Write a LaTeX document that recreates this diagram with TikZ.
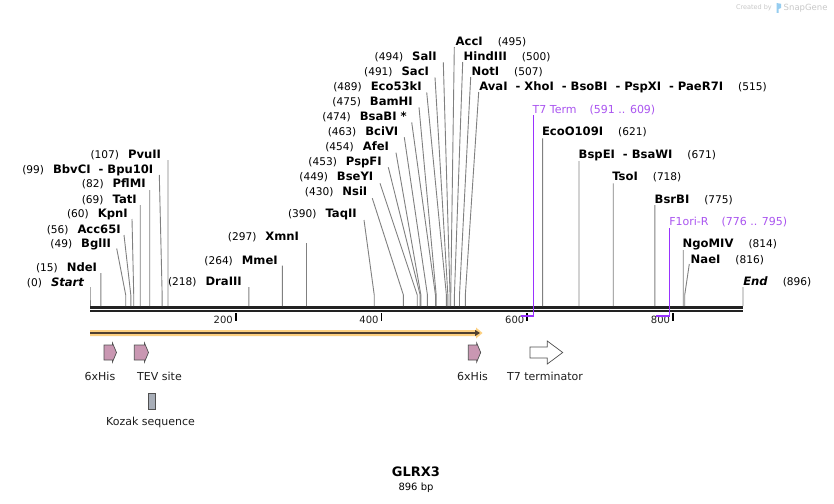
\documentclass[tikz,border=0pt]{standalone}
\usepackage{fontspec}
\setmainfont{DejaVu Sans}
\usetikzlibrary{arrows.meta}
\definecolor{siteg}{RGB}{128,128,128}
\definecolor{bb}{RGB}{34,34,34}
\definecolor{primc}{RGB}{153,51,255}
\definecolor{primt}{RGB}{170,85,240}
\definecolor{orfill}{RGB}{253,208,128}
\definecolor{ordark}{RGB}{80,64,48}
\definecolor{pinkf}{RGB}{201,151,178}
\definecolor{featst}{RGB}{80,80,80}
\definecolor{kozf}{RGB}{168,174,184}
\definecolor{cgray}{RGB}{200,200,200}
\definecolor{sgblue}{RGB}{150,205,240}
\definecolor{txt}{RGB}{30,30,30}
\newcommand\enzn[1]{{\fontsize{11.6}{13}\selectfont\bfseries #1}}
\newcommand\enzp[1]{{\fontsize{10.6}{12}\selectfont #1}}
\newcommand\dsh{\hspace{8pt}-\hspace{4pt}}
\newcommand\sitecon[4]{%
  \coordinate (#1s) at ({90+#2*0.7288},306);
  \coordinate (#1b) at ({90+#2*0.7288},295);
  \coordinate (#1t) at (#3,#4);
  \draw[siteline] (#1t) -- (#1b) -- (#1s);}
\newcommand\labL[5]{\node[lbl,anchor=base east] (#1) at (#2,{#3+4}) {\enzp{(#4)}\hspace{9pt}\enzn{#5}};}
\newcommand\labR[5]{\node[lbl,anchor=base west] (#1) at (#2,{#3+4}) {\enzn{#5}\hspace{15pt}\enzp{(#4)}};}
\newcommand\pinkarrow[3]{%
  \draw[pinkfeat] (#2,345) -- ({#3-4},345) -- ({#3-4},343) -- (#3,352.5) -- ({#3-4},362) -- ({#3-4},360) -- (#2,360) -- cycle;
  \coordinate (#1) at ({(#2+#3)/2},352.5);}
\begin{document}
\begin{tikzpicture}[x=1pt,y=-1pt,
  siteline/.style={draw=siteg,line width=0.9pt},
  lbl/.style={inner sep=0pt,outer sep=0pt,text=black},
  primline/.style={draw=primc,line width=1.4pt},
  primlbl/.style={inner sep=0pt,outer sep=0pt,text=primt,font=\fontsize{11}{13}\selectfont},
  backbone/.style={draw=bb},
  tickmark/.style={draw=black,line width=1.8pt},
  ticklbl/.style={inner sep=0pt,outer sep=0pt,text=txt,font=\fontsize{10}{12}\selectfont,anchor=base east},
  pinkfeat/.style={draw=featst,fill=pinkf,line width=0.7pt,line join=miter},
  featlbl/.style={inner sep=0pt,outer sep=0pt,text=txt,font=\fontsize{11}{13}\selectfont},
]
\useasboundingbox[fill=white] (0,0) rectangle (834,503);

% ---- header
\node[inner sep=0pt,anchor=base east,text=cgray,font=\fontsize{6.5}{8}\selectfont] (cb) at (772,10) {Created by};
\fill[sgblue] (776.5,3) -- (781,3.8) -- (781,8) -- (778.5,9) -- (778.5,13) -- (776.5,13) -- cycle;
\node[inner sep=0pt,anchor=base west,text=cgray,font=\fontsize{8.5}{10}\selectfont] (sg) at (783.5,10.5) {SnapGene};

% ---- backbone
\coordinate (bbL1) at (90,307.3); \coordinate (bbR1) at (743,307.3);
\coordinate (bbL2) at (90,311.2); \coordinate (bbR2) at (743,311.2);
\draw[backbone,line width=2.4pt] (bbL1) -- (bbR1);
\draw[backbone,line width=2.1pt] (bbL2) -- (bbR2);

% ---- ticks
\foreach \p/\n in {200/t2,400/t4,600/t6,800/t8}{
  \coordinate (\n a) at ({90+\p*0.7288},313);
  \coordinate (\n b) at ({90+\p*0.7288},320.5);
  \draw[tickmark] (\n a) -- (\n b);
  \node[ticklbl] (\n l) at ({90+\p*0.7288-3},323) {\p};
}

% ---- enzyme sites, left-labelled
\sitecon{st}{0}{90}{287}
\node[lbl,anchor=base east] (start) at (84,286) {\enzp{(0)}\hspace{9pt}\enzn{\itshape Start}};
\sitecon{nde}{15}{100.93}{273}   \labL{ndel}{97}{267}{15}{NdeI}
\sitecon{bgl}{49}{116.7}{248.5}  \labL{bgll}{111}{243.3}{49}{BglII}
\sitecon{acc}{56}{124}{235}      \labL{accl}{120.7}{229.3}{56}{Acc65I}
\sitecon{kpn}{60}{132}{219}      \labL{kpnl}{127.7}{213.3}{60}{KpnI}
\sitecon{tat}{69}{140.29}{205}   \labL{tatl}{136.7}{199.3}{69}{TatI}
\sitecon{pfl}{82}{149.76}{190}   \labL{pfll}{145.7}{183.3}{82}{PflMI}
\sitecon{bbv}{99}{159.3}{175}    \labL{bbvl}{153.3}{169.3}{99}{BbvCI\dsh Bpu10I}
\sitecon{pvu}{107}{167.98}{160}  \labL{pvul}{161}{154}{107}{PvuII}
\sitecon{dra}{218}{248.88}{287}  \labL{dral}{241.7}{281.7}{218}{DraIII}
\sitecon{mme}{264}{282.40}{265.5}\labL{mmel}{277.7}{260.7}{264}{MmeI}
\sitecon{xmn}{297}{306.45}{243}  \labL{xmnl}{299}{236.7}{297}{XmnI}
\sitecon{taq}{390}{364}{220}     \labL{taql}{356.7}{213.3}{390}{TaqII}
\sitecon{nsi}{430}{372.3}{198.3} \labL{nsil}{367.3}{191.7}{430}{NsiI}
\sitecon{bse}{449}{380}{183.3}   \labL{bsel}{373.3}{176.7}{449}{BseYI}
\sitecon{psp}{453}{388.3}{167.3} \labL{pspl}{381.7}{161.7}{453}{PspFI}
\sitecon{afe}{454}{396}{152.7}   \labL{afel}{389}{146.7}{454}{AfeI}
\sitecon{bci}{463}{404.3}{137.3} \labL{bcil}{398.3}{131.7}{463}{BciVI}
\sitecon{bsa}{474}{411.7}{122.3} \labL{bsal}{406.7}{116.7}{474}{BsaBI *}
\sitecon{bam}{475}{419}{107.3}   \labL{baml}{412.7}{101.7}{475}{BamHI}
\sitecon{eco}{489}{426.7}{92.3}  \labL{ecol}{421.7}{86.7}{489}{Eco53kI}
\sitecon{sac}{491}{435}{77.3}    \labL{sacl}{429}{71.7}{491}{SacI}
\sitecon{sal}{494}{443.3}{62.3}  \labL{sall}{436.7}{56.7}{494}{SalI}

% ---- enzyme sites, right-labelled
\sitecon{acci}{495}{454.3}{47}   \labR{accil}{455.7}{41.7}{495}{AccI}
\sitecon{hin}{500}{462.7}{62}    \labR{hinl}{463.7}{56.7}{500}{HindIII}
\sitecon{not}{507}{470.7}{77}    \labR{notl}{471.7}{71.7}{507}{NotI}
\sitecon{ava}{515}{478.7}{92}    \labR{aval}{479.3}{86.7}{515}{AvaI\dsh XhoI\dsh BsoBI\dsh PspXI\dsh PaeR7I}
\sitecon{e109}{621}{542.58}{138.3}\labR{e109l}{542}{131.7}{621}{EcoO109I}
\sitecon{bspe}{671}{579.02}{161} \labR{bspel}{578.7}{154}{671}{BspEI\dsh BsaWI}
\sitecon{tso}{718}{613.28}{183.3}\labR{tsol}{612.3}{176.7}{718}{TsoI}
\sitecon{bsr}{775}{654.82}{205}  \labR{bsrl}{654.7}{199}{775}{BsrBI}
\sitecon{ngo}{814}{683.24}{250}  \labR{ngol}{682.7}{243.3}{814}{NgoMIV}
\sitecon{nae}{816}{689.3}{264}   \labR{nael}{690.7}{259}{816}{NaeI}
\sitecon{en}{896}{743}{287}
\node[lbl,anchor=base west] (endl) at (743.3,285.7) {\enzn{\itshape End}\hspace{15pt}\enzp{(896)}};

% ---- primers
\coordinate (t7a) at (520.7,316); \coordinate (t7b) at (533.3,316); \coordinate (t7c) at (533.3,115);
\draw[primline] (t7a) -- (t7b) -- (t7c);
\node[primlbl,anchor=base west] (t7l) at (532.7,113) {T7 Term\hspace{13pt}(591 .. 609)};
\coordinate (f1a) at (655.5,316); \coordinate (f1b) at (669.7,316); \coordinate (f1c) at (669.7,228);
\draw[primline] (f1a) -- (f1b) -- (f1c);
\node[primlbl,anchor=base west] (f1l) at (669.3,225.7) {F1ori-R\hspace{13pt}(776 .. 795)};

% ---- ORF arrow
\fill[orfill] (90,330) -- (476,330) -- (476,327.5) -- (482.5,333) -- (476,338.5) -- (476,336) -- (90,336) -- cycle;
\coordinate (orfa) at (90,333); \coordinate (orfb) at (480,333);
\draw[draw=ordark,line width=1.6pt,-{Triangle[length=5pt,width=6pt]}] (orfa) -- (orfb);

% ---- features
\pinkarrow{his1}{104}{116.5}
\pinkarrow{tev}{134.3}{148.5}
\pinkarrow{his2}{468.3}{480.7}
\draw[draw=featst,fill=white,line width=0.7pt] (530,347) -- (547.3,347) -- (547.3,341) -- (562.7,352.5) -- (547.3,364) -- (547.3,358) -- (530,358) -- cycle;
\coordinate (t7t) at (546,352.5);
\node[featlbl] (his1l) at (100,376) {6xHis};
\node[featlbl] (tevl) at (159.5,376) {TEV site};
\node[featlbl] (his2l) at (472.5,376) {6xHis};
\node[featlbl] (t7tl) at (545,376) {T7 terminator};
\draw[draw=featst,fill=kozf,line width=0.7pt] (148,393) rectangle (155.5,409);
\coordinate (koz) at (151.7,401);
\node[featlbl] (kozl) at (150.5,422) {Kozak sequence};

% ---- title
\node[inner sep=0pt,font=\fontsize{13}{15}\selectfont\bfseries] (title) at (416,472) {GLRX3};
\node[inner sep=0pt,font=\fontsize{10}{12}\selectfont] (bp) at (416,487.5) {896 bp};
\end{tikzpicture}
\end{document}
